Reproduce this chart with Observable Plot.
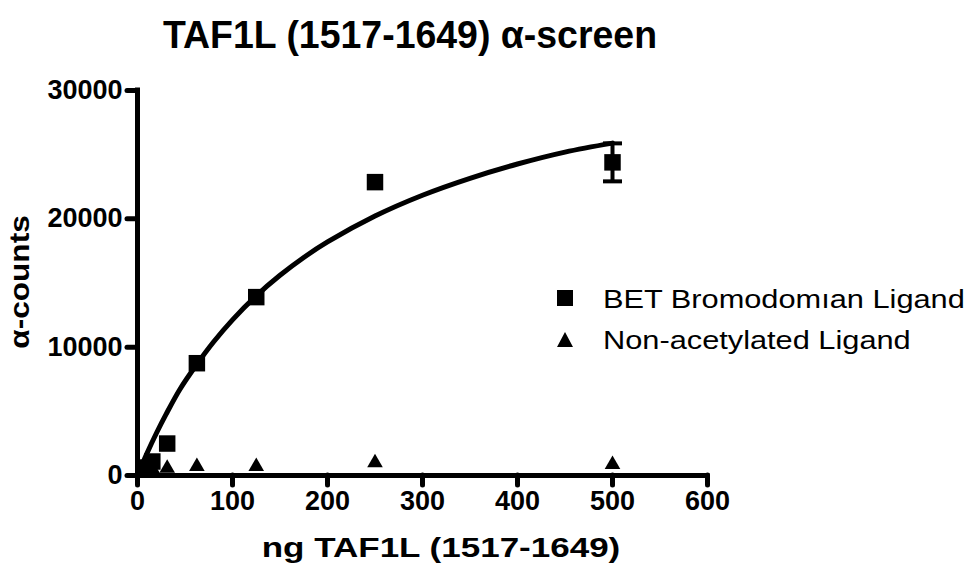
<!DOCTYPE html>
<html>
<head>
<meta charset="utf-8">
<script src="https://cdn.jsdelivr.net/npm/d3@7"></script>
<script src="https://cdn.jsdelivr.net/npm/@observablehq/plot@0.6"></script>
<style>
  html, body { margin: 0; padding: 0; background: white; }
  #wrap { position: relative; width: 973px; height: 563px; overflow: hidden; font-family: "Liberation Sans", Arial, Helvetica, sans-serif; color: black; }
  .lbl { position: absolute; white-space: nowrap; line-height: 1; }
  #title { left: 410px; top: 15px; font-size: 39px; font-weight: bold; transform: translateX(-50%) scaleX(0.96); }
  #xlabel { left: 441px; top: 534px; font-size: 28px; font-weight: bold; transform: translateX(-50%) scaleX(1.25); }
  #ylabel { left: 20px; top: 282px; font-size: 27px; font-weight: bold; transform: translate(-50%,-50%) rotate(-90deg) scaleX(1.17); }
  .leg { font-size: 25px; font-weight: normal; transform-origin: left center; transform: scaleX(1.23); left: 603px; }
  .sym { position: absolute; }
</style>
</head>
<body>
<div id="wrap">
  <div id="chart"></div>
  <div class="lbl" id="title">TAF1L (1517-1649) α-screen</div>
  <div class="lbl" id="xlabel">ng TAF1L (1517-1649)</div>
  <div class="lbl" id="ylabel">α-counts</div>
  <svg class="sym" style="left:557px;top:290px" width="16" height="16"><rect x="0" y="0" width="16" height="16" fill="black"/></svg>
  <div class="lbl leg" id="leg1" style="top:287px">BET Bromodomıan Ligand</div>
  <svg class="sym" style="left:557px;top:332px" width="16" height="15"><path d="M8,0L16,15L0,15Z" fill="black"/></svg>
  <div class="lbl leg" id="leg2" style="top:328px">Non-acetylated Ligand</div>
</div>
<script>
// Data
const conc = [7.8, 15.6, 31.25, 62.5, 125, 250, 500];
const betValues = [620, 1090, 2490, 8750, 13900, 22860, 24400];
const betErrLow = [null, null, null, null, null, null, 22920];
const betErrHigh = [null, null, null, null, null, null, 25880];
const nonAcValues = [450, 500, 570, 700, 700, 1000, 850];

// Fitted curve
const curveX = [0, 10, 20, 30, 45, 62.5, 80, 100, 125, 150, 175, 200, 250, 300, 350, 400, 450, 500];
const curveY = [0, 1730, 3310, 4760, 6760, 8670, 10400, 12130, 14000, 15600, 16990, 18200, 20220, 21840, 23160, 24270, 25200, 25900];

const xTicks = [0, 100, 200, 300, 400, 500, 600];
const yTicks = [0, 10000, 20000, 30000];

const bet = conc.map((x, i) => ({x, y: betValues[i], lo: betErrLow[i], hi: betErrHigh[i]}));
const nonAc = conc.map((x, i) => ({x, y: nonAcValues[i]}));
const curve = curveX.map((x, i) => ({x, y: curveY[i]}));
const errs = bet.filter(d => d.lo != null);

const capSymbol = {
  draw(context, size) {
    const w = Math.sqrt(size) / 2;
    context.moveTo(-w, 0);
    context.lineTo(w, 0);
  }
};

const chart = Plot.plot({
  width: 973,
  height: 563,
  marginLeft: 137,
  marginRight: 266,
  marginTop: 90,
  marginBottom: 88,
  x: {domain: [0, 600]},
  y: {domain: [0, 30000]},
  style: {fontFamily: "'Liberation Sans', Arial, sans-serif", fontSize: "27px", fontWeight: "bold", color: "black", background: "white", overflow: "visible"},
  marks: [
    Plot.axisX({ticks: xTicks, tickSize: 10, tickPadding: 5, strokeWidth: 5, strokeLinecap: "round", label: null, tickFormat: d => String(d), fontSize: 27, fontWeight: "bold"}),
    Plot.axisY({ticks: yTicks, tickSize: 10, tickPadding: 5, strokeWidth: 5, strokeLinecap: "round", label: null, tickFormat: d => String(d), fontSize: 27, fontWeight: "bold"}),
    Plot.ruleY([0], {stroke: "black", strokeWidth: 5, strokeLinecap: "square"}),
    Plot.ruleX([0], {stroke: "black", strokeWidth: 5, strokeLinecap: "square"}),
    Plot.dot(nonAc, {x: "x", y: "y", symbol: "triangle", r: 5.8, fill: "black", stroke: "none"}),
    Plot.ruleX(errs, {x: "x", y1: "lo", y2: "hi", stroke: "black", strokeWidth: 4}),
    Plot.dot(errs, {x: "x", y: "lo", symbol: capSymbol, r: 10.7, stroke: "black", strokeWidth: 4, fill: "none"}),
    Plot.dot(errs, {x: "x", y: "hi", symbol: capSymbol, r: 10.7, stroke: "black", strokeWidth: 4, fill: "none"}),
    Plot.line(curve, {x: "x", y: "y", curve: "catmull-rom", stroke: "black", strokeWidth: 5}),
    Plot.dot(bet, {x: "x", y: "y", symbol: "square", r: 9.3, fill: "black", stroke: "none"})
  ]
});
document.getElementById("chart").appendChild(chart);
</script>
</body>
</html>
